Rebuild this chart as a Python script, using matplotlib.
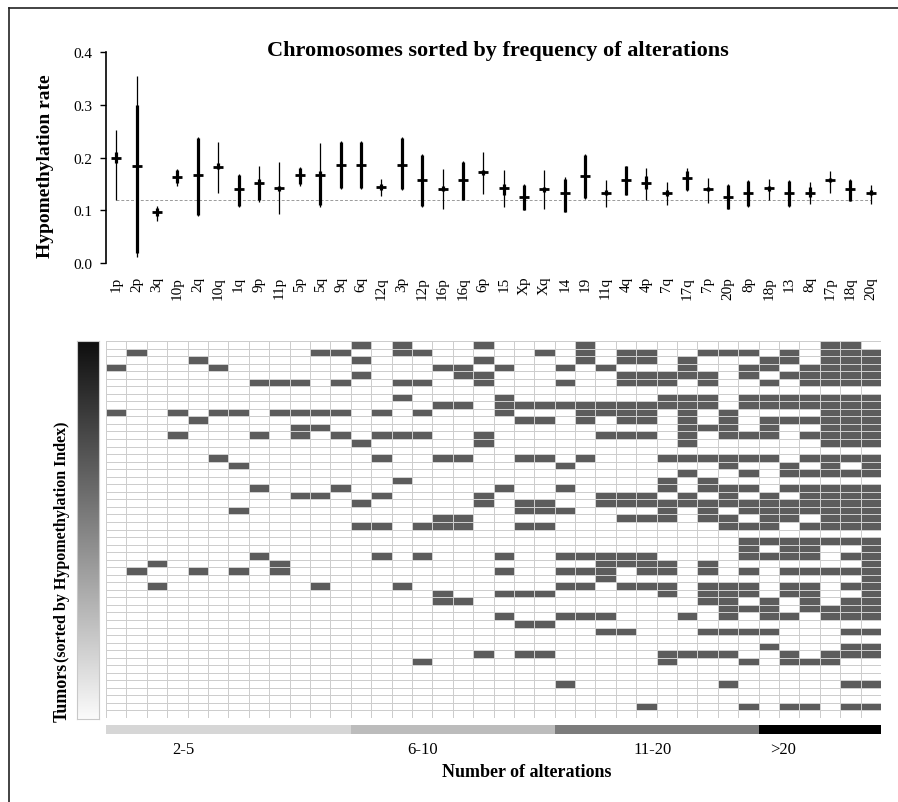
import numpy as np
import matplotlib
matplotlib.use("Agg")
import matplotlib.pyplot as plt
from matplotlib.colors import ListedColormap, LinearSegmentedColormap
from matplotlib.lines import Line2D

plt.rcParams['font.family'] = ['Liberation Serif', 'DejaVu Serif']

# chromosome arms, sorted by frequency of alterations
arms = ['1p', '2p', '3q', '10p', '2q', '10q', '1q', '9p', '11p', '5p', '5q', '9q', '6q',
        '12q', '3p', '12p', '16p', '16q', '6p', '15', 'Xp', 'Xq', '14', '19', '11q', '4q',
        '4p', '7q', '17q', '7p', '20p', '8p', '18p', '13', '8q', '17p', '18q', '20q']

# hypomethylation rate per arm: median, whiskers (lo/hi), box (q1/q3)
med = [0.200, 0.185, 0.097, 0.164, 0.167, 0.183, 0.140, 0.152, 0.142, 0.168, 0.167, 0.187, 0.187,
       0.144, 0.187, 0.158, 0.141, 0.158, 0.172, 0.143, 0.125, 0.140, 0.133, 0.166, 0.134, 0.158,
       0.152, 0.133, 0.161, 0.140, 0.126, 0.134, 0.142, 0.134, 0.134, 0.157, 0.140, 0.134]
lo = [0.120, 0.011, 0.081, 0.147, 0.090, 0.134, 0.106, 0.116, 0.093, 0.147, 0.106, 0.140, 0.140,
      0.128, 0.138, 0.106, 0.103, 0.119, 0.131, 0.106, 0.100, 0.102, 0.097, 0.122, 0.106, 0.129,
      0.119, 0.110, 0.136, 0.114, 0.102, 0.106, 0.119, 0.106, 0.112, 0.134, 0.117, 0.112]
hi = [0.253, 0.355, 0.109, 0.179, 0.239, 0.229, 0.169, 0.185, 0.191, 0.182, 0.227, 0.232, 0.232,
      0.160, 0.239, 0.207, 0.179, 0.193, 0.211, 0.176, 0.150, 0.177, 0.163, 0.207, 0.157, 0.185,
      0.180, 0.153, 0.180, 0.161, 0.150, 0.158, 0.160, 0.158, 0.153, 0.174, 0.160, 0.148]
q1 = [0.190, 0.020, 0.090, 0.152, 0.092, 0.178, 0.108, 0.120, 0.137, 0.150, 0.110, 0.142, 0.142,
      0.139, 0.140, 0.108, 0.136, 0.120, 0.167, 0.130, 0.101, 0.135, 0.098, 0.124, 0.130, 0.130,
      0.140, 0.128, 0.138, 0.136, 0.103, 0.108, 0.137, 0.108, 0.125, 0.153, 0.118, 0.130]
q3 = [0.210, 0.300, 0.105, 0.176, 0.237, 0.190, 0.168, 0.160, 0.147, 0.180, 0.175, 0.230, 0.230,
      0.150, 0.237, 0.205, 0.146, 0.192, 0.177, 0.150, 0.148, 0.145, 0.160, 0.205, 0.138, 0.184,
      0.165, 0.138, 0.175, 0.144, 0.148, 0.156, 0.147, 0.156, 0.145, 0.161, 0.158, 0.138]
baseline = 0.12

# altered arm indices for each tumor (rows sorted by hypomethylation index)
tumor_alts = [
    [12, 14, 18, 23, 35, 36],
    [1, 10, 11, 14, 15, 21, 23, 25, 26, 29, 30, 31, 33, 35, 36, 37],
    [4, 12, 18, 23, 25, 26, 28, 32, 33, 35, 36, 37],
    [0, 5, 16, 17, 19, 22, 24, 28, 31, 32, 34, 35, 36, 37],
    [12, 17, 18, 25, 26, 27, 28, 29, 31, 33, 34, 35, 36, 37],
    [7, 8, 9, 11, 14, 15, 18, 22, 25, 26, 27, 29, 32, 34, 35, 36, 37],
    [],
    [14, 19, 27, 28, 29, 31, 32, 33, 34, 35, 36, 37],
    [16, 17, 19, 20, 21, 22, 23, 24, 25, 26, 27, 28, 29, 31, 32, 33, 34, 35, 36, 37],
    [0, 3, 5, 6, 8, 9, 10, 11, 13, 15, 19, 23, 24, 25, 26, 28, 30, 35, 36, 37],
    [4, 20, 21, 23, 25, 26, 28, 30, 32, 33, 34, 35, 36, 37],
    [9, 10, 28, 29, 30, 32, 35, 36, 37],
    [3, 7, 9, 11, 13, 14, 15, 18, 24, 25, 26, 28, 30, 31, 32, 34, 35, 36, 37],
    [12, 18, 28, 35, 36, 37],
    [],
    [5, 13, 16, 17, 20, 21, 23, 27, 28, 29, 30, 31, 32, 34, 35, 36, 37],
    [6, 22, 30, 33, 35, 37],
    [28, 31, 33, 34, 35, 36, 37],
    [14, 27, 29],
    [7, 11, 19, 22, 27, 29, 30, 31, 33, 34, 35, 36, 37],
    [9, 10, 13, 18, 24, 25, 26, 28, 30, 32, 34, 35, 36, 37],
    [12, 18, 20, 21, 24, 25, 26, 27, 28, 29, 30, 31, 32, 33, 34, 35, 36, 37],
    [6, 20, 21, 22, 27, 29, 31, 32, 33, 34, 35, 36, 37],
    [16, 17, 25, 26, 27, 29, 30, 32, 33, 35, 36, 37],
    [12, 13, 15, 16, 17, 20, 21, 30, 31, 32, 34, 35, 36, 37],
    [],
    [31, 32, 33, 34, 35, 36, 37],
    [31, 33, 34, 37],
    [7, 13, 15, 19, 22, 23, 24, 25, 26, 31, 32, 33, 34, 36, 37],
    [2, 8, 24, 25, 26, 27, 29, 37],
    [1, 4, 6, 8, 19, 22, 23, 24, 26, 27, 29, 31, 33, 34, 35, 36, 37],
    [24, 37],
    [2, 10, 14, 22, 23, 25, 26, 27, 29, 30, 31, 33, 34, 36, 37],
    [16, 19, 20, 21, 27, 29, 30, 31, 33, 34, 37],
    [16, 17, 29, 30, 32, 34, 36, 37],
    [30, 31, 32, 34, 35, 36, 37],
    [19, 22, 23, 24, 28, 30, 32, 33, 35, 36, 37],
    [20, 21],
    [24, 25, 29, 30, 31, 32, 36, 37],
    [],
    [32, 36, 37],
    [18, 20, 21, 27, 28, 29, 30, 33, 35, 36, 37],
    [15, 27, 31, 33, 34, 35],
    [],
    [],
    [22, 30, 36, 37],
    [],
    [],
    [26, 31, 33, 34, 36, 37],
    [],
]

# groups of arms by number of alterations
group_labels = ['2-5', '6-10', '11-20', '>20']
group_sizes = [12, 10, 10, 6]
group_colors = ['#d6d6d6', '#bcbcbc', '#7c7c7c', '#000000']
group_label_x = [3.8, 15.5, 26.8, 33.2]

W, H = 898, 803


def box(x0, y0, x1, y1):
    # pixel box -> figure fraction [left, bottom, width, height]
    return [x0 / W, 1 - y1 / H, (x1 - x0) / W, (y1 - y0) / H]


fig = plt.figure(figsize=(W / 100, H / 100), dpi=100)
n = len(arms)
x = np.arange(n)

# ---- top panel
ax = fig.add_axes(box(106, 53, 881, 264.3))
ax.patch.set_alpha(0)
ax.set_xlim(-0.5, n - 0.5)
ax.set_ylim(0, 0.4)
ax.hlines(baseline, 0, n - 1, colors='#9a9a9a', linestyles=(0, (3, 2)), lw=0.7)
ax.vlines(x, lo, hi, colors='black', lw=0.9)
ax.vlines(x, q1, q3, colors='black', lw=2.3)
ax.plot(x, med, ls='none', marker='_', ms=7, mew=2, color='black')
for s in ['top', 'right', 'bottom']:
    ax.spines[s].set_visible(False)
ax.spines['left'].set_linewidth(1.2)
ax.set_yticks([0.0, 0.1, 0.2, 0.3, 0.4])
ax.set_yticklabels(['0.0', '0.1', '0.2', '0.3', '0.4'])
ax.tick_params(axis='y', length=4, width=1, labelsize=11, pad=6)
ax.set_xticks(x)
ax.set_xticklabels(arms, rotation=90, fontsize=11, va='top')
ax.tick_params(axis='x', length=0, pad=9)

fig.text(498 / W, 1 - 51 / H, 'Chromosomes sorted by frequency of alterations',
         ha='center', va='center', fontsize=16, fontweight='bold')
fig.text(46 / W, 1 - 166 / H, 'Hypomethylation rate', rotation=90,
         ha='center', va='center', fontsize=14, fontweight='bold')

# ---- heatmap
nrows = len(tumor_alts)
M = np.zeros((nrows, n))
for r, cols in enumerate(tumor_alts):
    M[r, cols] = 1

axh = fig.add_axes(box(106, 342, 881, 719))
axh.pcolormesh(M, cmap=ListedColormap(['white', '#5c5c5c']), vmin=0, vmax=1,
               edgecolors='#cdcdcd', linewidth=0.6)
axh.set_xlim(0, n)
axh.set_ylim(nrows, 0)
axh.axis('off')

# gradient bar (hypomethylation index)
axg = fig.add_axes(box(77, 342, 99, 720))
grad = np.linspace(0, 1, 256).reshape(-1, 1)
axg.imshow(grad, aspect='auto', cmap=LinearSegmentedColormap.from_list('g', ['#0e0e0e', '#fbfbfb']))
axg.set_xticks([])
axg.set_yticks([])
for s in axg.spines.values():
    s.set_color('#c8c8c8')

fig.text(62 / W, 1 - 722 / H, 'Tumors', rotation=90, rotation_mode='anchor',
         ha='left', va='center', fontsize=13, fontweight='bold')
fig.text(62 / W, 1 - 662 / H, '(sorted by Hypomethylation Index)', rotation=90,
         rotation_mode='anchor', ha='left', va='center', fontsize=11.5, fontweight='bold')

# ---- group bar
axb = fig.add_axes(box(106, 726, 881, 735))
left = np.concatenate([[0], np.cumsum(group_sizes)[:-1]])
axb.barh(0, group_sizes, left=left, color=group_colors, height=1)
axb.set_xlim(0, n)
axb.set_ylim(-0.5, 0.5)
axb.axis('off')
for lab, gx in zip(group_labels, group_label_x):
    axb.text(gx, -2.2, lab, ha='center', va='center', fontsize=12)

fig.text(527 / W, 1 - 773 / H, 'Number of alterations', ha='center', va='center',
         fontsize=13, fontweight='bold')

# outer frame (top and left edges only)
fig.add_artist(Line2D([9 / W, 1], [1 - 9 / H, 1 - 9 / H], color='#222222', lw=1.2))
fig.add_artist(Line2D([9 / W, 9 / W], [1 - 9 / H, 0], color='#222222', lw=1.2))

fig.savefig('out.png', dpi=100)
